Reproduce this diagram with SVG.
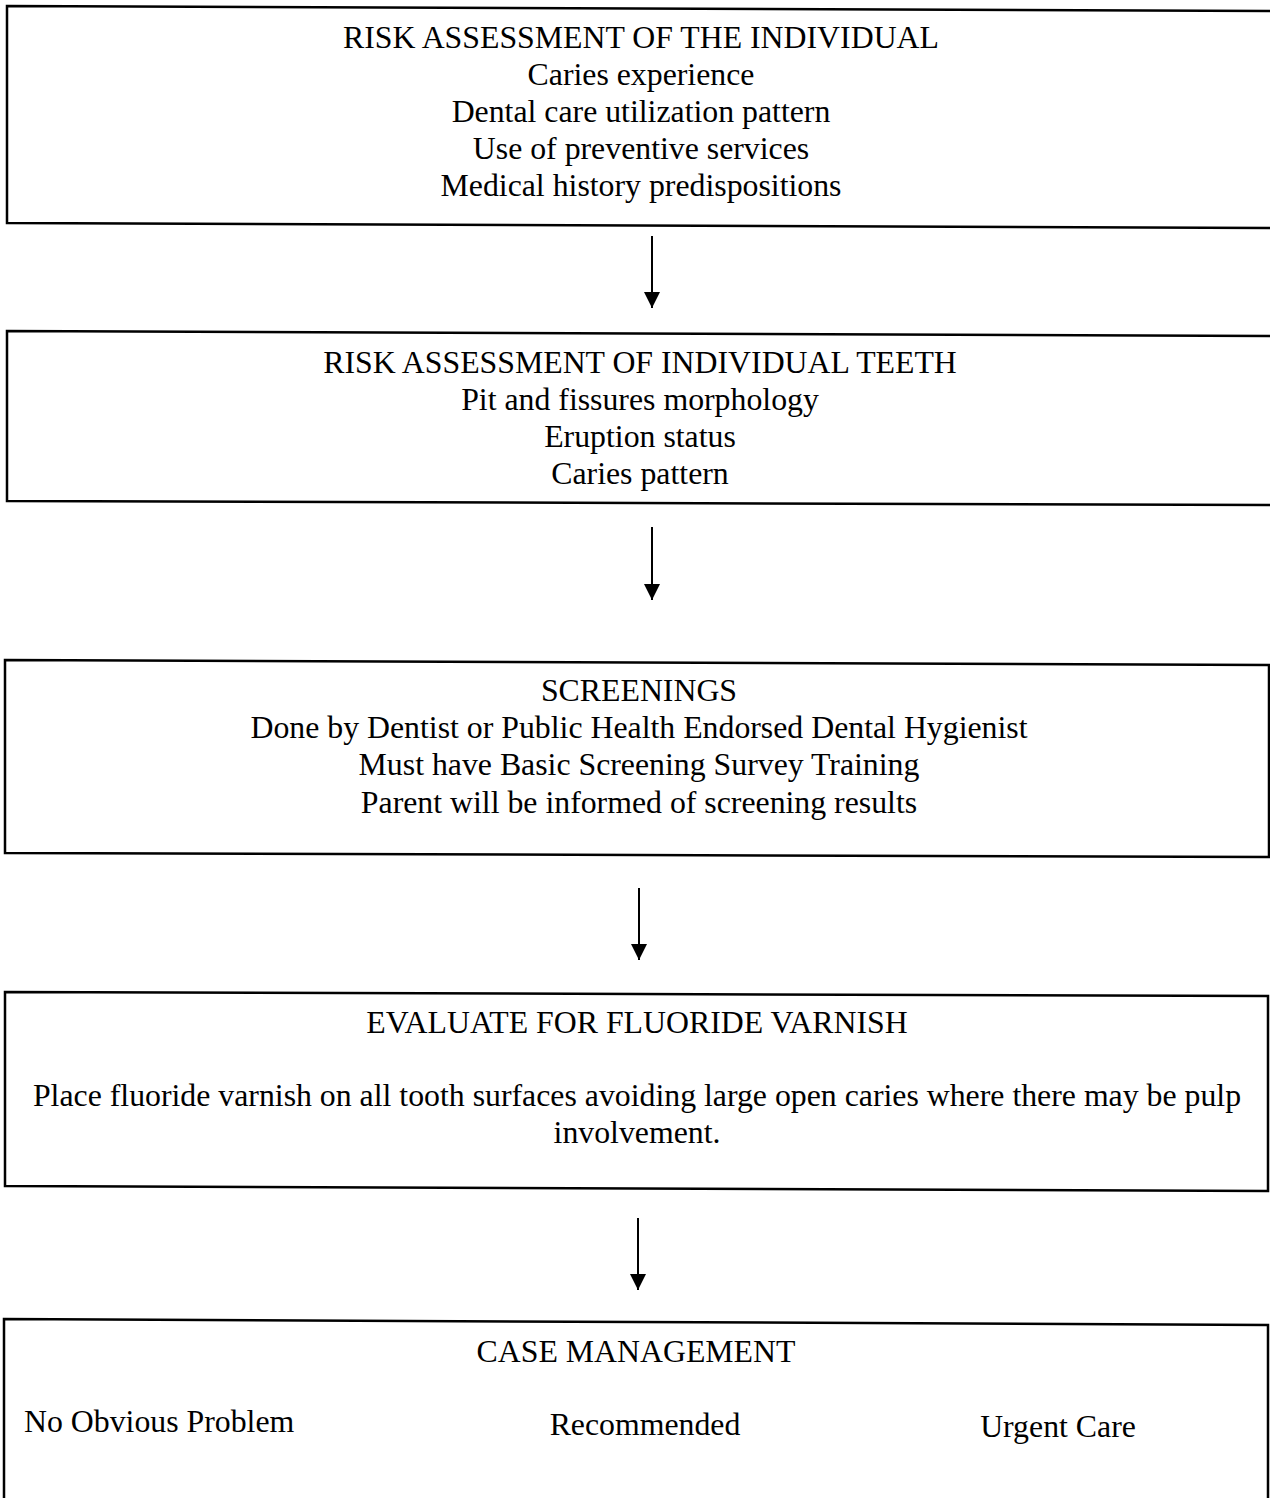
<svg xmlns="http://www.w3.org/2000/svg" width="1270" height="1498" viewBox="0 0 1270 1498">
<style>
.box{fill:#fff;stroke:#000;stroke-width:2.5}
text{font-family:"Liberation Serif","Times New Roman",serif;font-size:31.8px;fill:#000}
.c{text-anchor:middle}
.conn line{stroke:#000;stroke-width:2}
</style>
<defs>
<marker id="ah" markerWidth="16" markerHeight="16" refX="16" refY="8" orient="auto" markerUnits="userSpaceOnUse">
<path d="M0,0 L16,8 L0,16 Z" fill="#000"/>
</marker>
</defs>
<rect width="1270" height="1498" fill="#fff"/>
<g id="node1">
<path class="box" d="M7,6 L1272,11 L1272,228 L7,223 Z"/>
<text class="c" x="641" y="48">RISK ASSESSMENT OF THE INDIVIDUAL</text>
<text class="c" x="641" y="85">Caries experience</text>
<text class="c" x="641" y="122">Dental care utilization pattern</text>
<text class="c" x="641" y="159">Use of preventive services</text>
<text class="c" x="641" y="196">Medical history predispositions</text>
</g>
<g id="node2">
<path class="box" d="M7,331 L1272,336 L1272,505 L7,501 Z"/>
<text class="c" x="640" y="373">RISK ASSESSMENT OF INDIVIDUAL TEETH</text>
<text class="c" x="640" y="410">Pit and fissures morphology</text>
<text class="c" x="640" y="447">Eruption status</text>
<text class="c" x="640" y="484">Caries pattern</text>
</g>
<g id="node3">
<path class="box" d="M5,660 L1269,665 L1269,857 L5,853 Z"/>
<text class="c" x="639" y="701">SCREENINGS</text>
<text class="c" x="639" y="738">Done by Dentist or Public Health Endorsed Dental Hygienist</text>
<text class="c" x="639" y="775">Must have Basic Screening Survey Training</text>
<text class="c" x="639" y="813">Parent will be informed of screening results</text>
</g>
<g id="node4">
<path class="box" d="M5,992 L1268,996 L1268,1191 L5,1186 Z"/>
<text class="c" x="637" y="1033">EVALUATE FOR FLUORIDE VARNISH</text>
<text class="c" x="637" y="1106">Place fluoride varnish on all tooth surfaces avoiding large open caries where there may be pulp</text>
<text class="c" x="637" y="1143">involvement.</text>
</g>
<g id="node5">
<path class="box" d="M4,1510 L4,1319 L1268,1325 L1268,1510"/>
<text class="c" x="636" y="1362">CASE MANAGEMENT</text>
<text x="24" y="1432">No Obvious Problem</text>
<text class="c" x="645" y="1435">Recommended</text>
<text class="c" x="1058" y="1437">Urgent Care</text>
</g>
<g id="connectors" class="conn">
<line x1="652" y1="236" x2="652" y2="308" marker-end="url(#ah)"/>
<line x1="652" y1="527" x2="652" y2="600" marker-end="url(#ah)"/>
<line x1="639" y1="888" x2="639" y2="960" marker-end="url(#ah)"/>
<line x1="638" y1="1218" x2="638" y2="1290" marker-end="url(#ah)"/>
</g>
</svg>
